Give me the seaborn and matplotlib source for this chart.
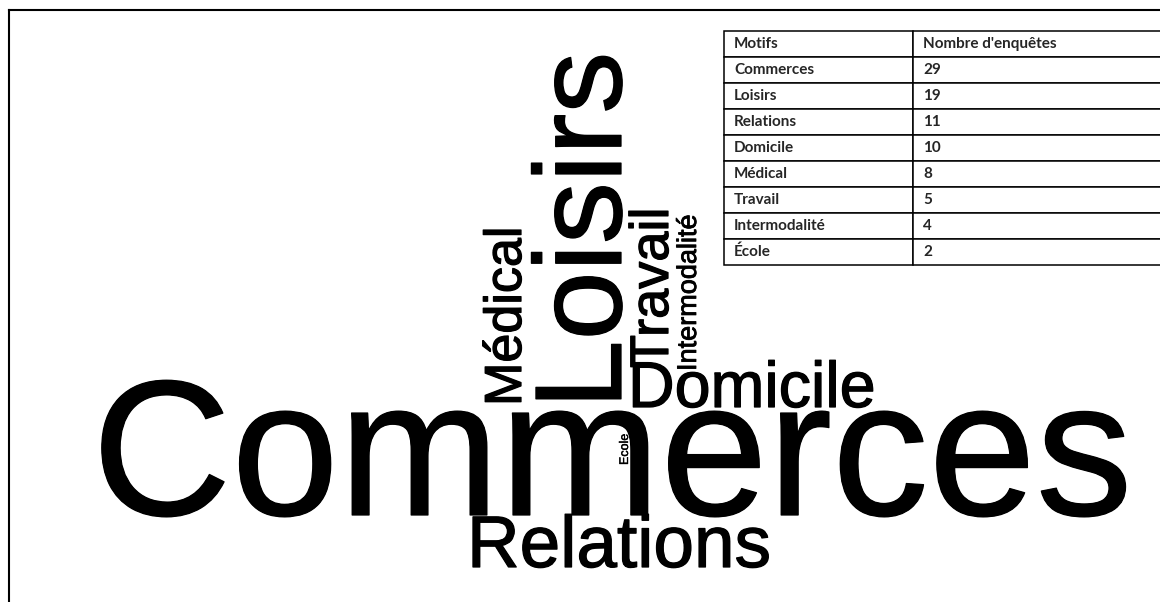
import matplotlib
matplotlib.use("Agg")
import matplotlib.pyplot as plt
import matplotlib.patheffects as pe
import seaborn as sns

# données du tableau
motifs = ["Commerces", "Loisirs", "Relations", "Domicile", "Médical",
          "Travail", "Intermodalité", "École"]
enquetes = [29, 19, 11, 10, 8, 5, 4, 2]
entetes = ["Motifs", "Nombre d'enquêtes"]
# le nuage écrit "Ecole" sans accent
mots_nuage = ["Commerces", "Loisirs", "Relations", "Domicile", "Médical",
              "Travail", "Intermodalité", "Ecole"]

# mise en page du nuage : début de la ligne de base (px), taille (pt), rotation
placement = [
    (92, 515, 139, 0),
    (621, 409, 89, 90),
    (467, 567, 52.5, 0),
    (628, 407, 46.5, 0),
    (521, 406, 37.5, 90),
    (668, 368, 39, 90),
    (696, 371, 19.5, 90),
    (628, 465, 9, 90),
]

W, H = 1160, 602
sns.set_theme(style="white")
plt.rcParams["font.family"] = ["Liberation Sans", "DejaVu Sans"]

fig = plt.figure(figsize=(W / 100, H / 100), dpi=100)
x0, y0 = 9, 10
ax = fig.add_axes([x0 / W, 0, (W - x0) / W, (H - y0) / H])
ax.set_xlim(x0, W)
ax.set_ylim(H, y0)
ax.set_xticks([])
ax.set_yticks([])
sns.despine(ax=ax, top=False, right=True, left=False, bottom=True)
for side in ("left", "top"):
    ax.spines[side].set_color("black")
    ax.spines[side].set_linewidth(1.5)

for mot, (x, y, taille, rot) in zip(mots_nuage, placement):
    epais = min(0.9, taille * 0.03)
    ax.text(x, y, mot, fontsize=taille, rotation=rot, rotation_mode="anchor",
            ha="left", va="baseline", color="black",
            path_effects=[pe.withStroke(linewidth=epais, foreground="black")])


def frac(px, py):
    return (px - x0) / (W - x0), (H - py) / (H - y0)


# tableau
t_left, t_top, t_mid, t_right, t_bottom = 724, 31, 913, 1175, 265
bx, by = frac(t_left, t_bottom)
bx2, by2 = frac(t_right, t_top)
rows = [entetes] + [[m, str(n)] for m, n in zip(motifs, enquetes)]
table = ax.table(cellText=rows, cellLoc="left",
                 colWidths=[t_mid - t_left, t_right - t_mid],
                 bbox=[bx, by, bx2 - bx, by2 - by])
table.auto_set_font_size(False)
for (r, c), cell in table.get_celld().items():
    cell.set_edgecolor("black")
    cell.set_linewidth(1.1)
    cell.set_facecolor("white")
    cell.PAD = 10 / (t_mid - t_left if c == 0 else t_right - t_mid)
    txt = cell.get_text()
    txt.set_fontfamily(["Lato", "DejaVu Sans"])
    txt.set_fontweight("bold")
    txt.set_fontsize(11)

fig.savefig("out.png", dpi=100)
